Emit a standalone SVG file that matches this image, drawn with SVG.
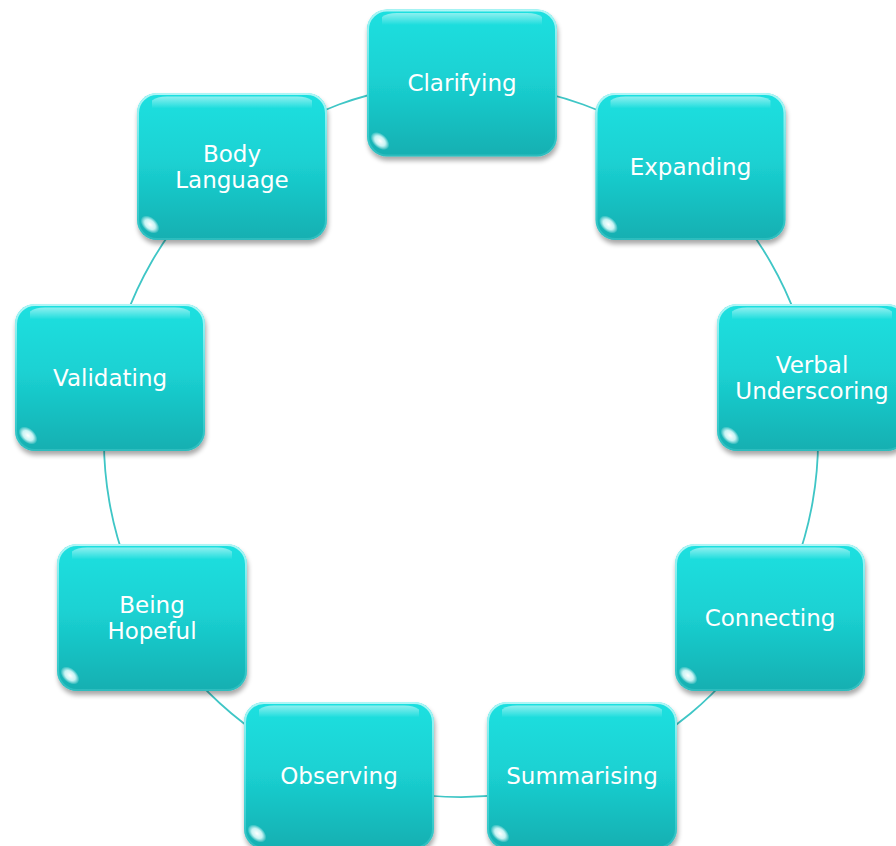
<svg xmlns="http://www.w3.org/2000/svg" width="896" height="846" viewBox="0 0 896 846">
<style>
.conn{fill:none;stroke:#3fc6c6;stroke-width:1.8}
.box{fill:url(#fillG)}
.edge{fill:none;stroke:url(#edgeG);stroke-width:2}
.gloss{fill:url(#glossG)}
.lbl{font-family:"DejaVu Sans","Liberation Sans",sans-serif;font-size:23px;fill:#ffffff;text-anchor:middle}
</style>
<defs>
<linearGradient id="fillG" x1="0" y1="0" x2="0" y2="1">
<stop offset="0" stop-color="#1fe0e0"/>
<stop offset="0.45" stop-color="#1bd2d3"/>
<stop offset="1" stop-color="#12afb1"/>
</linearGradient>
<linearGradient id="edgeG" x1="0" y1="0" x2="0" y2="1">
<stop offset="0" stop-color="#bff8f8" stop-opacity="0.9"/>
<stop offset="0.5" stop-color="#8af0f0" stop-opacity="0.5"/>
<stop offset="1" stop-color="#8af0f0" stop-opacity="0.2"/>
</linearGradient>
<linearGradient id="glossG" x1="0" y1="0" x2="0" y2="1">
<stop offset="0" stop-color="#ffffff" stop-opacity="0.5"/>
<stop offset="1" stop-color="#ffffff" stop-opacity="0"/>
</linearGradient>
<radialGradient id="spotG" cx="0.5" cy="0.5" r="0.5">
<stop offset="0" stop-color="#ffffff" stop-opacity="1"/>
<stop offset="0.55" stop-color="#e8ffff" stop-opacity="0.85"/>
<stop offset="1" stop-color="#ffffff" stop-opacity="0"/>
</radialGradient>
<filter id="sh" x="-10%" y="-10%" width="120%" height="130%">
<feGaussianBlur in="SourceAlpha" stdDeviation="2.5"/>
<feOffset dx="1" dy="4" result="b"/>
<feComponentTransfer><feFuncA type="linear" slope="0.35"/></feComponentTransfer>
<feMerge><feMergeNode/><feMergeNode in="SourceGraphic"/></feMerge>
</filter>
<g id="shape">
<rect x="-95" y="-73.5" width="190" height="147" rx="20" class="box" filter="url(#sh)"/>
<rect x="-94" y="-72.5" width="188" height="145" rx="19" class="edge"/>
<path d="M-80,-66 Q-75,-70 -65,-70 L65,-70 Q75,-70 80,-66 L80,-58 L-80,-58 Z" class="gloss"/>
<ellipse cx="-82" cy="58" rx="11" ry="7" transform="rotate(42 -82 58)" fill="url(#spotG)"/>
</g>
</defs>
<g id="connectors">
<path class="conn" d="M461,83 A357,357 0 0 1 690.5,166.5"/>
<path class="conn" d="M690.5,166.5 A357,357 0 0 1 812.6,378"/>
<path class="conn" d="M812.6,378 A357,357 0 0 1 770.2,618.5"/>
<path class="conn" d="M770.2,618.5 A357,357 0 0 1 583.1,775.5"/>
<path class="conn" d="M583.1,775.5 A357,357 0 0 1 338.9,775.5"/>
<path class="conn" d="M338.9,775.5 A357,357 0 0 1 151.8,618.5"/>
<path class="conn" d="M151.8,618.5 A357,357 0 0 1 109.4,378"/>
<path class="conn" d="M109.4,378 A357,357 0 0 1 231.5,166.5"/>
<path class="conn" d="M231.5,166.5 A357,357 0 0 1 461,83"/>
</g>
<g id="n-clarifying" transform="translate(462,83)"><use href="#shape"/><text class="lbl" x="0" y="8">Clarifying</text></g>
<g id="n-expanding" transform="translate(690.5,166.5)"><use href="#shape"/><text class="lbl" x="0" y="8">Expanding</text></g>
<g id="n-verbal" transform="translate(812,377.5)"><use href="#shape"/><text class="lbl" x="0" y="-5">Verbal</text><text class="lbl" x="0" y="21">Underscoring</text></g>
<g id="n-connecting" transform="translate(770,617.5)"><use href="#shape"/><text class="lbl" x="0" y="8">Connecting</text></g>
<g id="n-summarising" transform="translate(582,775.5)"><use href="#shape"/><text class="lbl" x="0" y="8">Summarising</text></g>
<g id="n-observing" transform="translate(339,775.5)"><use href="#shape"/><text class="lbl" x="0" y="8">Observing</text></g>
<g id="n-hopeful" transform="translate(152,617.5)"><use href="#shape"/><text class="lbl" x="0" y="-5">Being</text><text class="lbl" x="0" y="21">Hopeful</text></g>
<g id="n-validating" transform="translate(110,377.5)"><use href="#shape"/><text class="lbl" x="0" y="8">Validating</text></g>
<g id="n-body" transform="translate(232,166.5)"><use href="#shape"/><text class="lbl" x="0" y="-5">Body</text><text class="lbl" x="0" y="21">Language</text></g>
</svg>
